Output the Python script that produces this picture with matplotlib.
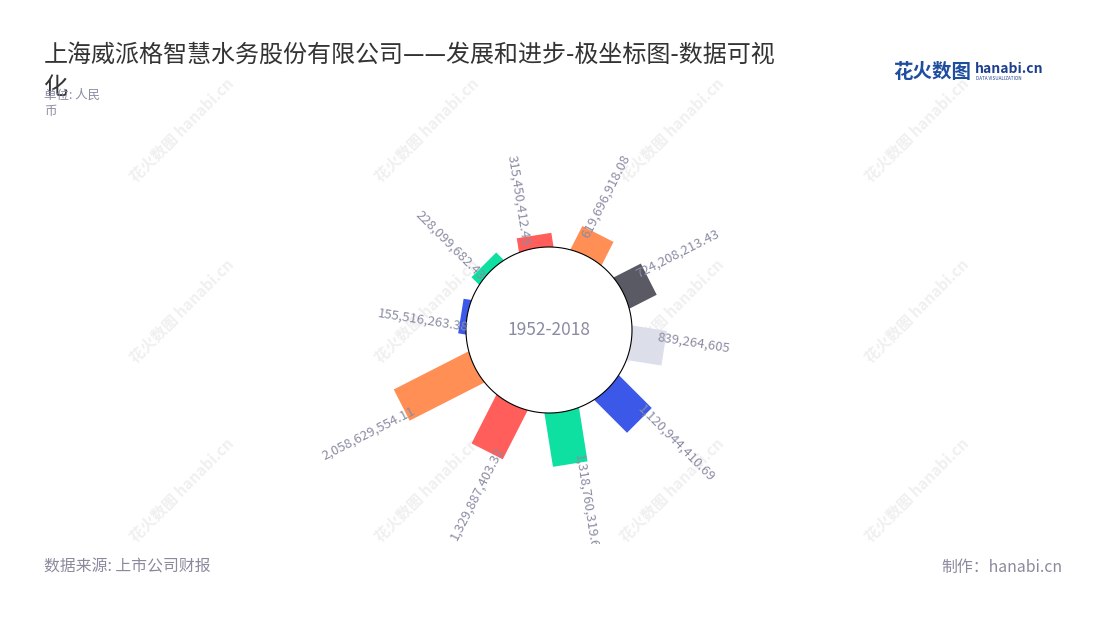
import numpy as np
import matplotlib
matplotlib.use('Agg')
import matplotlib.pyplot as plt
from matplotlib.transforms import Bbox, TransformedBbox, offset_copy

plt.rcParams['font.family'] = ['Noto Sans CJK SC', 'DejaVu Sans']

# 数据
values = [155516263.38, 228099682.43, 315450412.45, 619696918.08, 724208213.43,
          839264605, 1120944410.69, 1318760319.68, 1329887403.32, 2058629554.11]
labels = ['155,516,263.38', '228,099,682.43', '315,450,412.45', '619,696,918.08',
          '724,208,213.43', '839,264,605', '1,120,944,410.69', '1,318,760,319.68',
          '1,329,887,403.32', '2,058,629,554.11']
colors = ['#3c58e8', '#0ee0a1', '#ff5e5a', '#ff8f55', '#595a63', '#dcdfe9']

title = '上海威派格智慧水务股份有限公司——发展和进步-极坐标图-数据可视\n化'
subtitle = '单位: 人民\n币'
center_text = '1952-2018'
source = '数据来源: 上市公司财报'
maker = '制作：hanabi.cn'

W, H = 1100, 620
fig = plt.figure(figsize=(W / 100, H / 100), dpi=100)

# 水印
for wx in [182, 427, 672, 917]:
    for wy in [130, 311, 490]:
        fig.text(wx / W, 1 - wy / H, '花火数图 hanabi.cn', rotation=45,
                 ha='center', va='center', fontsize=11, fontweight='bold',
                 color='#f0f0f0', zorder=0)

# 极坐标
cx, cy = 549, 330          # 圆心 (px)
R = 230                    # 坐标轴半径 (px)
ppu = 4.0                  # 每 1e8 元的像素
r0 = 83 / ppu              # 内圆半径
ax = fig.add_axes([(cx - R) / W, (H - cy - R) / H, 2 * R / W, 2 * R / H],
                  projection='polar', zorder=1)
ax.set_theta_zero_location('N')
ax.set_theta_direction(-1)
ax.set_ylim(0, R / ppu)
ax.axis('off')

start, step = 279, 36
clip = TransformedBbox(Bbox([[0, 76 / H], [1, 1]]), fig.transFigure)
for i, (v, lab) in enumerate(zip(values, labels)):
    phi = start + step * i
    th = np.radians(phi)
    val = v / 1e8
    ax.plot([th, th], [r0 - 5 / ppu, r0 + val], color=colors[i % len(colors)],
            lw=35 * 0.72, solid_capstyle='butt', zorder=2)

    p = phi % 360
    if p < 180:
        rot, ha = 90 - p, 'left'
    else:
        rot, ha = 270 - p, 'right'
    # 标签沿逆时针方向偏移一点
    off = 10
    dx = -np.cos(np.radians(p)) * off
    dy = np.sin(np.radians(p)) * off
    tr = offset_copy(ax.transData, fig=fig, x=dx, y=dy, units='dots')
    t = ax.text(th, r0 + val - 9 / ppu, lab, transform=tr, rotation=rot,
                rotation_mode='anchor', ha=ha, va='center', fontsize=9.5,
                color='#8a8ca3', zorder=4)
    t.set_clip_on(True)
    t.set_clip_box(clip)

circ = np.linspace(0, 2 * np.pi, 300)
ax.fill(circ, np.full_like(circ, r0), facecolor='white', edgecolor='black',
        lw=0.8, zorder=3)
ax.text(0, 0, center_text, ha='center', va='center', fontsize=12.5,
        color='#8a8ca3', zorder=5)

# 文字
fig.text(44 / W, 1 - 42 / H, title, ha='left', va='top', fontsize=17.3,
         color='#333333', linespacing=1.3)
fig.text(44 / W, 1 - 89 / H, subtitle, ha='left', va='top', fontsize=9,
         color='#8a8ca3', linespacing=1.35)
fig.text(44 / W, 1 - 567 / H, source, ha='left', va='center', fontsize=11.4,
         color='#8a8a9e')
fig.text(1062 / W, 1 - 567 / H, maker, ha='right', va='center', fontsize=11.4,
         color='#8a8a9e')

# logo
fig.text(893 / W, 1 - 72 / H, '花火数图', ha='left', va='center', fontsize=14,
         fontweight='bold', color='#1f4e9e')
fig.text(975 / W, 1 - 69 / H, 'hanabi.cn', ha='left', va='center', fontsize=10,
         fontweight='bold', color='#1d3f8f')
fig.text(976 / W, 1 - 79 / H, 'DATA VISUALIZATION', ha='left', va='center',
         fontsize=3.3, color='#1d3f8f')

fig.savefig('out.png', dpi=100)
